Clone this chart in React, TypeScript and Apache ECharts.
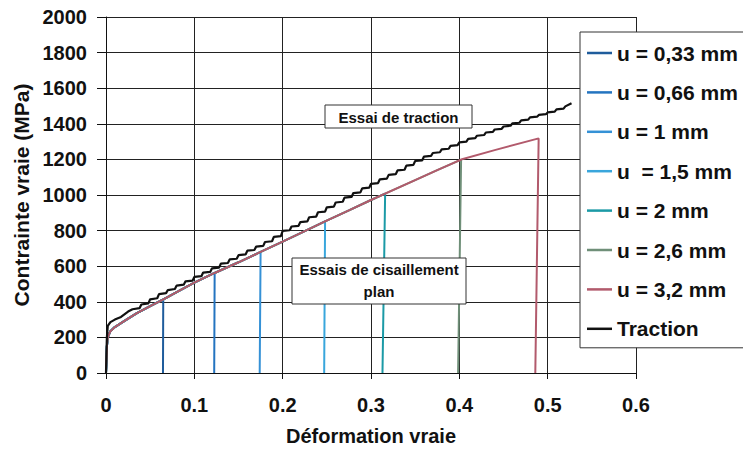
import React, { useEffect, useRef } from "react";
import * as echarts from "echarts";

// ---- data ----
const seriesNames = [
  "u = 0,33 mm",
  "u = 0,66 mm",
  "u = 1 mm",
  "u  = 1,5 mm",
  "u = 2 mm",
  "u = 2,6 mm",
  "u = 3,2 mm",
];
const seriesColors = ["#1f5c9c", "#2474c0", "#3591d6", "#39a6dc", "#1b9aa6", "#6f8f78", "#b25a6c"];
// point where each shear test fails (top of the drop) and where the drop reaches 0
const failureStrain = [0.0648, 0.123, 0.175, 0.248, 0.316, 0.402, 0.4898];
const failureStress = [414, 562, 680, 852, 1008, 1199, 1318];
const ruptureStrain = [0.0645, 0.1225, 0.174, 0.247, 0.313, 0.3986, 0.486];

// common shear (cisaillement plan) hardening curve
const shearStrain = [0, 0.001, 0.002, 0.005, 0.01, 0.017, 0.025, 0.035, 0.05, 0.065, 0.08, 0.1, 0.123, 0.15, 0.175, 0.2, 0.225, 0.248, 0.275, 0.3, 0.316, 0.35, 0.375, 0.402, 0.44, 0.4898];
const shearStress = [0, 150, 200, 235, 258, 280, 305, 336, 376, 414, 455, 508, 562, 622, 680, 738, 797, 852, 914, 972, 1008, 1084, 1140, 1199, 1252, 1318];

// tensile (traction) curve, with its small load-step stairs
const tractionStrain = [
  0, 0.001, 0.002, 0.005, 0.01, 0.017, 0.025,
  0.030, 0.038, 0.040, 0.048, 0.050, 0.058, 0.060, 0.068, 0.070, 0.078, 0.080, 0.088, 0.090, 0.098,
  0.100, 0.108, 0.110, 0.118, 0.120, 0.128, 0.130, 0.138, 0.140, 0.148, 0.150, 0.158, 0.160, 0.168,
  0.170, 0.178, 0.180, 0.188, 0.190, 0.198, 0.200, 0.208, 0.210, 0.218, 0.220, 0.228, 0.230, 0.238,
  0.240, 0.248, 0.250, 0.258, 0.260, 0.268, 0.270, 0.278, 0.280, 0.288, 0.290, 0.298, 0.300, 0.308,
  0.310, 0.318, 0.320, 0.328, 0.330, 0.338, 0.340, 0.348, 0.350, 0.358, 0.360, 0.368, 0.370, 0.378,
  0.380, 0.388, 0.390, 0.398, 0.400, 0.408, 0.410, 0.418, 0.420, 0.428, 0.430, 0.438, 0.440, 0.448,
  0.450, 0.458, 0.460, 0.468, 0.470, 0.478, 0.480, 0.488, 0.490, 0.498, 0.500, 0.508, 0.510, 0.518,
  0.520, 0.527,
];
const tractionStress = [
  0, 200, 265, 286, 300, 315, 345,
  358, 364, 385, 391, 414, 420, 443, 449, 466, 472, 491, 496, 515, 519,
  540, 544, 564, 568, 588, 592, 614, 618, 638, 642, 662, 666, 687, 691,
  710, 714, 736, 740, 765, 769, 798, 802, 823, 827, 848, 852, 875, 879,
  903, 907, 931, 935, 958, 962, 985, 989, 1011, 1015, 1037, 1041, 1063, 1067,
  1088, 1092, 1113, 1117, 1138, 1142, 1165, 1169, 1191, 1195, 1216, 1220, 1236, 1240,
  1256, 1260, 1276, 1280, 1296, 1300, 1315, 1319, 1333, 1337, 1351, 1355, 1368, 1372,
  1385, 1389, 1402, 1406, 1419, 1423, 1436, 1440, 1450, 1454, 1464, 1468, 1481, 1485,
  1498, 1516,
];

const xMin = 0;
const xMax = 0.6;
const xInterval = 0.1;
const yMin = 0;
const yMax = 2000;
const yInterval = 200;

const FONT = '"Liberation Sans", Arial, sans-serif';

function buildShearSeries(i: number): number[][] {
  const pts: number[][] = [];
  for (let k = 0; k < shearStrain.length; k++) {
    if (shearStrain[k] < failureStrain[i]) pts.push([shearStrain[k], shearStress[k]]);
  }
  pts.push([failureStrain[i], failureStress[i]]);
  pts.push([ruptureStrain[i], 0]);
  return pts;
}

export default function App() {
  const ref = useRef<HTMLDivElement>(null);

  useEffect(() => {
    if (!ref.current) return;
    const chart = echarts.init(ref.current, undefined, { renderer: "svg" });

    const series: any[] = seriesNames.map((name, i) => ({
      name,
      type: "line",
      data: buildShearSeries(i),
      showSymbol: false,
      symbol: "none",
      lineStyle: { color: seriesColors[i], width: 2 },
      itemStyle: { color: seriesColors[i] },
      z: 2,
    }));
    series.push({
      name: "Traction",
      type: "line",
      data: tractionStrain.map((x, k) => [x, tractionStress[k]]),
      showSymbol: false,
      symbol: "none",
      lineStyle: { color: "#111", width: 2.2 },
      itemStyle: { color: "#111" },
      z: 3,
    });

    const boxStyle = { fill: "#fff", stroke: "#333", lineWidth: 1 };
    const textFont = 'bold 15px "Liberation Sans", Arial, sans-serif';

    const option: any = {
      animation: false,
      backgroundColor: "#fff",
      grid: { left: 106, top: 17, right: 107, bottom: 77, containLabel: false },
      xAxis: {
        type: "value",
        min: xMin,
        max: xMax,
        interval: xInterval,
        name: "Déformation vraie",
        nameLocation: "middle",
        nameGap: 53,
        nameTextStyle: { fontFamily: FONT, fontWeight: "bold", fontSize: 20, color: "#111" },
        axisLine: { show: true, onZero: false, lineStyle: { color: "#111", width: 1 } },
        axisTick: { show: true, length: 6, inside: false, lineStyle: { color: "#111" } },
        axisLabel: {
          fontFamily: FONT, fontWeight: "bold", fontSize: 20, color: "#111", margin: 22,
          formatter: (v: number) => String(Math.round(v * 10) / 10),
        },
        splitLine: { show: true, lineStyle: { color: "#222", width: 1 } },
      },
      yAxis: {
        type: "value",
        min: yMin,
        max: yMax,
        interval: yInterval,
        name: "Contrainte vraie (MPa)",
        nameLocation: "middle",
        nameGap: 72,
        nameTextStyle: { fontFamily: FONT, fontWeight: "bold", fontSize: 21, color: "#111" },
        axisLine: { show: true, lineStyle: { color: "#111", width: 1 } },
        axisTick: { show: true, length: 9, inside: false, lineStyle: { color: "#111" } },
        axisLabel: {
          fontFamily: FONT, fontWeight: "bold", fontSize: 20, color: "#111", margin: 19,
          formatter: (v: number) => String(v),
        },
        splitLine: { show: true, lineStyle: { color: "#222", width: 1 } },
      },
      legend: {
        orient: "vertical",
        left: 580,
        top: 32,
        padding: [10, 60, 8, 7],
        itemGap: 17.4,
        itemWidth: 25,
        itemHeight: 2.5,
        icon: "rect",
        backgroundColor: "#fff",
        borderColor: "#333",
        borderWidth: 1,
        borderRadius: 0,
        textStyle: { fontFamily: FONT, fontWeight: "bold", fontSize: 21, color: "#111", lineHeight: 22 },
        data: [...seriesNames, "Traction"],
      },
      graphic: [
        {
          type: "rect",
          z: 100,
          shape: { x: 325, y: 105, width: 147, height: 23 },
          style: boxStyle,
        },
        {
          type: "text",
          z: 101,
          x: 398.5,
          y: 117,
          style: {
            text: "Essai de traction",
            align: "center",
            verticalAlign: "middle",
            font: textFont,
            fill: "#111",
          },
        },
        {
          type: "rect",
          z: 100,
          shape: { x: 292, y: 258, width: 174, height: 46 },
          style: boxStyle,
        },
        {
          type: "text",
          z: 101,
          x: 379,
          y: 280,
          style: {
            text: "Essais de cisaillement\nplan",
            align: "center",
            verticalAlign: "middle",
            lineHeight: 22,
            font: textFont,
            fill: "#111",
          },
        },
      ],
      series,
    };

    chart.setOption(option);
    return () => chart.dispose();
  }, []);

  return (
    <div
      ref={ref}
      style={{ position: "fixed", left: 0, top: 0, width: 743, height: 451, background: "#fff" }}
    />
  );
}
